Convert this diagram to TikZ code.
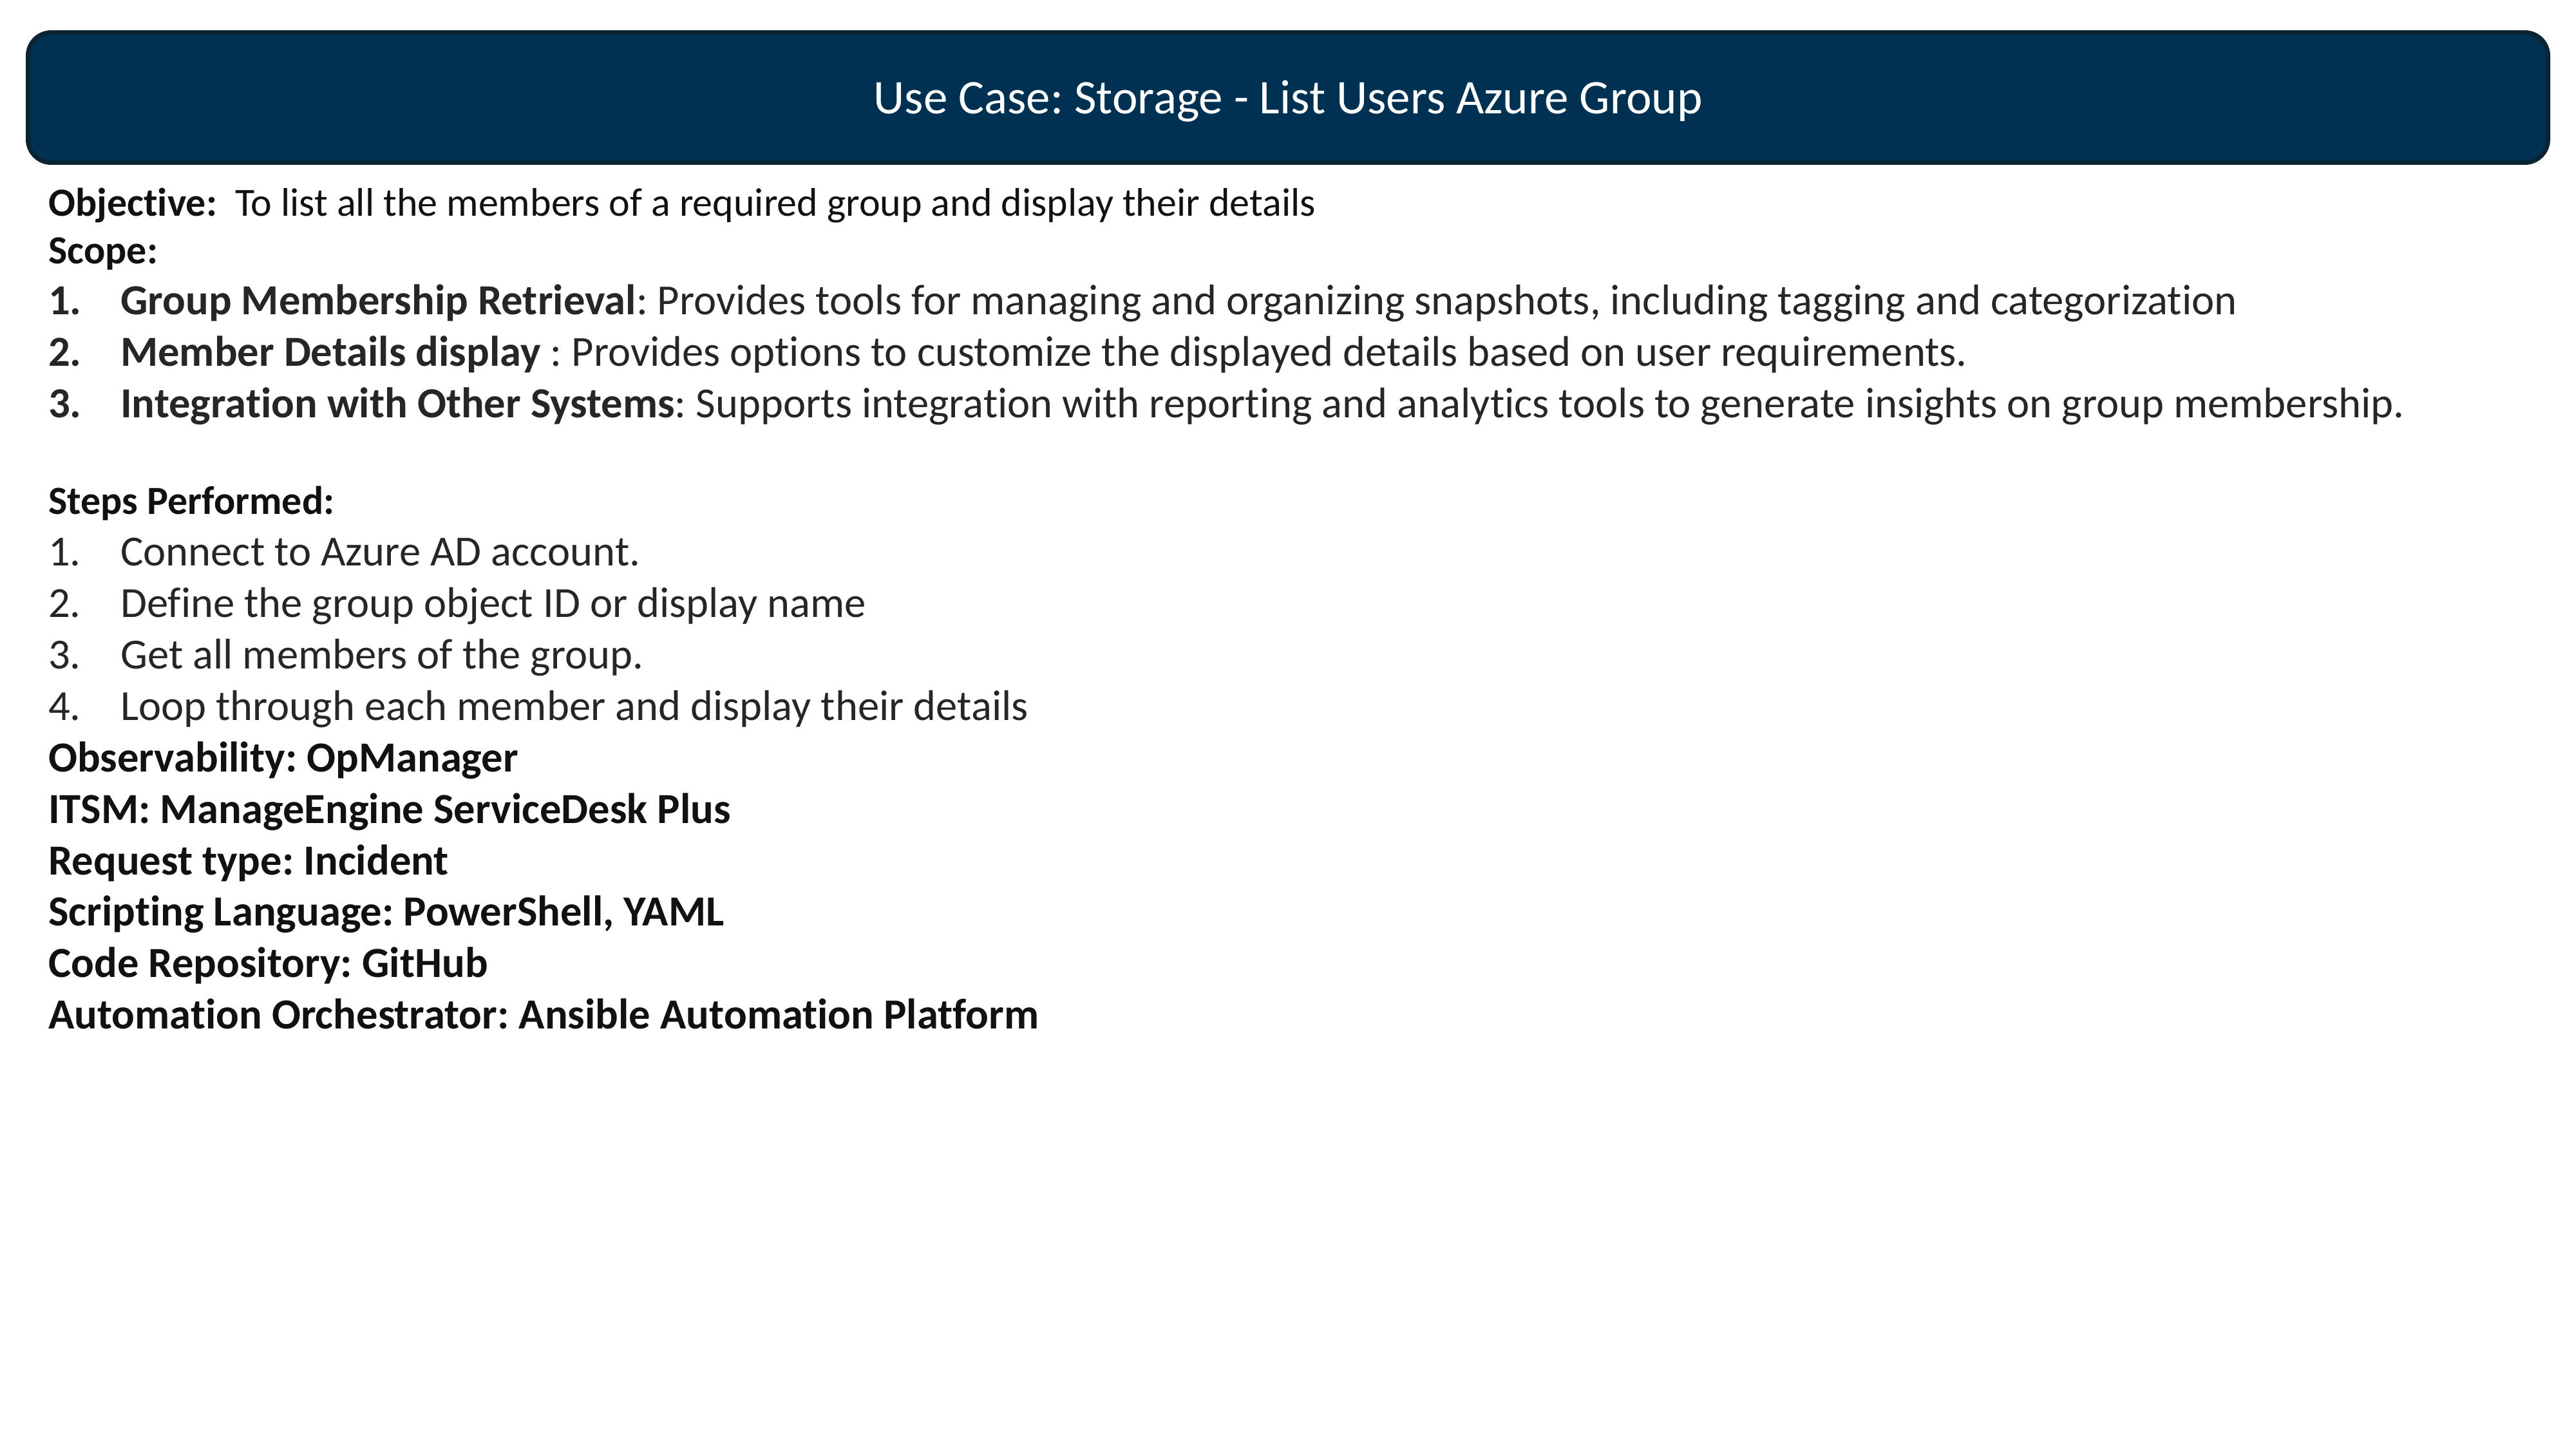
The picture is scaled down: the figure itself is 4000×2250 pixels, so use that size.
\documentclass[tikz,border=0pt]{standalone}
\usepackage{fontspec}
\setmainfont[Ligatures={NoCommon}]{Carlito}
\definecolor{hdrfill}{HTML}{003152}
\definecolor{hdrline}{HTML}{0B2433}
\definecolor{txt}{HTML}{262626}
\definecolor{txtb}{HTML}{111111}
\begin{document}
\frenchspacing
\begin{tikzpicture}[x=1pt,y=1pt,
  body/.style={anchor=base west, inner sep=0pt, font=\fontsize{66.6}{74}\selectfont, text=txt},
  bodyb/.style={body, text=txtb, font=\fontsize{66.6}{74}\selectfont\bfseries},
  smallb/.style={body, text=txtb, font=\fontsize{62}{74}\selectfont\bfseries},
  hdrbox/.style={draw=hdrline, fill=hdrfill, line width=7pt, rounded corners=36pt, inner sep=0pt}]
\useasboundingbox (0,0) rectangle (4000,-2250);
\node[hdrbox, minimum width=3913pt, minimum height=202pt] (hdr) at (2000,-151.5) {};
\node[anchor=base, inner sep=0pt, text=white, font=\fontsize{75}{80}\selectfont] (title) at (2000,-177) {Use Case: Storage - List Users Azure Group};

\node[body, text=txtb, font=\fontsize{62}{74}\selectfont] (obj) at (75,-335) {\textbf{Objective:}\hspace{0.45em}To list all the members of a required group and display their details};
\node[smallb] (scope) at (75,-409) {Scope:};

\node[bodyb, text=txt] (s1n) at (75,-488) {1.};
\node[body] (s1) at (187,-488) {\textbf{Group Membership Retrieval}: Provides tools for managing and organizing snapshots, including tagging and categorization};
\node[bodyb, text=txt] (s2n) at (75,-568) {2.};
\node[body] (s2) at (187,-568) {\textbf{Member Details display} : Provides options to customize the displayed details based on user requirements.};
\node[bodyb, text=txt] (s3n) at (75,-648) {3.};
\node[body] (s3) at (187,-648) {\textbf{Integration with Other Systems}: Supports integration with reporting and analytics tools to generate insights on group membership.};

\node[smallb] (steps) at (75,-798) {Steps Performed:};
\node[body] (p1n) at (75,-878) {1.};
\node[body] (p1) at (187,-878) {Connect to Azure AD account.};
\node[body] (p2n) at (75,-958) {2.};
\node[body] (p2) at (187,-958) {Define the group object ID or display name};
\node[body] (p3n) at (75,-1038) {3.};
\node[body] (p3) at (187,-1038) {Get all members of the group.};
\node[body] (p4n) at (75,-1118) {4.};
\node[body] (p4) at (187,-1118) {Loop through each member and display their details};

\node[bodyb] (obs) at (75,-1198) {Observability: OpManager};
\node[bodyb] (itsm) at (75,-1278) {ITSM: ManageEngine ServiceDesk Plus};
\node[bodyb] (req) at (75,-1358) {Request type: Incident};
\node[bodyb] (lang) at (75,-1437) {Scripting Language: PowerShell, YAML};
\node[bodyb] (repo) at (75,-1517) {Code Repository: GitHub};
\node[bodyb] (orch) at (75,-1597) {Automation Orchestrator: Ansible Automation Platform};
\end{tikzpicture}
\end{document}
